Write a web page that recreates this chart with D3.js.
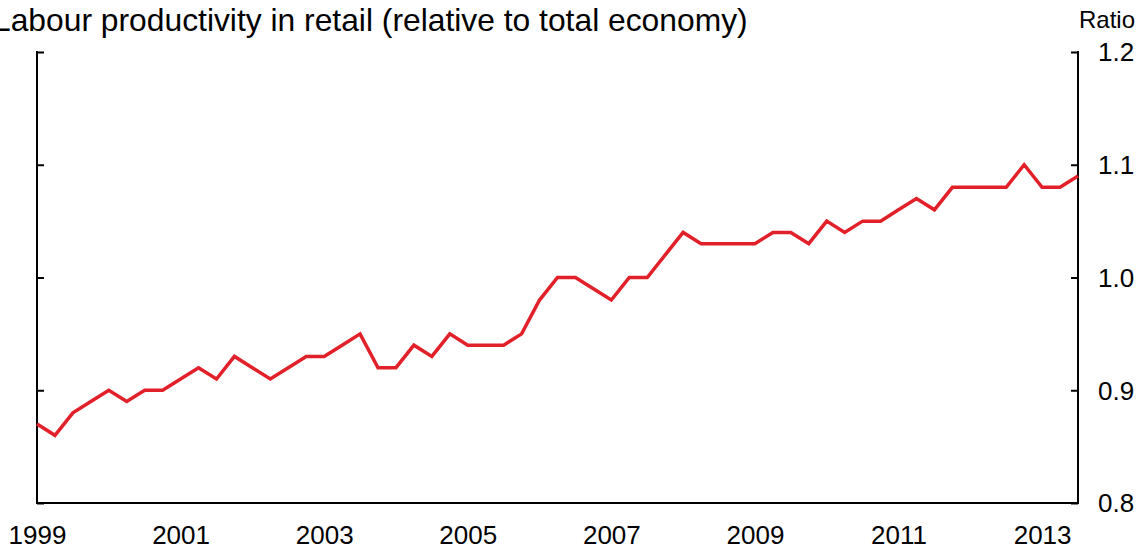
<!DOCTYPE html>
<html>
<head>
<meta charset="utf-8">
<script src="https://cdn.jsdelivr.net/npm/d3@7"></script>
<style>
  html, body { margin: 0; padding: 0; background: #fff; }
  svg { display: block; font-family: "Liberation Sans", Arial, sans-serif; }
</style>
</head>
<body>
<script>
// Quarterly data, 1999 Q1 – 2013 Q3
const startYear = 1999;
const values = [
  0.87, 0.86, 0.88, 0.89, 0.90, 0.89, 0.90, 0.90,
  0.91, 0.92, 0.91, 0.93, 0.92, 0.91, 0.92, 0.93,
  0.93, 0.94, 0.95, 0.92, 0.92, 0.94, 0.93, 0.95,
  0.94, 0.94, 0.94, 0.95, 0.98, 1.00, 1.00, 0.99,
  0.98, 1.00, 1.00, 1.02, 1.04, 1.03, 1.03, 1.03,
  1.03, 1.04, 1.04, 1.03, 1.05, 1.04, 1.05, 1.05,
  1.06, 1.07, 1.06, 1.08, 1.08, 1.08, 1.08, 1.10,
  1.08, 1.08, 1.09
];
const yearTicks = [1999, 2001, 2003, 2005, 2007, 2009, 2011, 2013];
const yTicks = [0.8, 0.9, 1.0, 1.1, 1.2];
const yTickLabels = ["0.8", "0.9", "1.0", "1.1", "1.2"];
const title = "Labour productivity in retail (relative to total economy)";
const unitLabel = "Ratio";

const W = 1148, H = 552;
const mLeft = 37, mRight = 1078, mTop = 52, mBottom = 503;

const svg = d3.select("body").append("svg").attr("width", W).attr("height", H);

const data = values.map((v, i) => ({ t: startYear + i / 4, v }));

const x = d3.scaleLinear()
  .domain([startYear, startYear + (values.length - 1) / 4])
  .range([mLeft, mRight]);
const y = d3.scaleLinear().domain([0.8, 1.2]).range([mBottom, mTop]);

// Left axis (ticks inward, no labels)
const leftAxis = d3.axisRight(y).tickValues(yTicks).tickSize(7).tickFormat("");
const gl = svg.append("g").attr("transform", `translate(${mLeft},0)`).call(leftAxis);
gl.select(".domain").remove();
gl.selectAll(".tick line").attr("stroke", "#000").attr("stroke-width", 2);
svg.append("line").attr("x1", mLeft).attr("x2", mLeft).attr("y1", y(1.2) - 1).attr("y2", mBottom + 1)
  .attr("stroke", "#000").attr("stroke-width", 2);

// Right axis (ticks inward, labels outside)
const rightAxis = d3.axisLeft(y).tickValues(yTicks).tickSize(7).tickFormat("");
const gr = svg.append("g").attr("transform", `translate(${mRight},0)`).call(rightAxis);
gr.select(".domain").remove();
gr.selectAll(".tick line").attr("stroke", "#000").attr("stroke-width", 2);
svg.append("line").attr("x1", mRight).attr("x2", mRight).attr("y1", y(1.2) - 1).attr("y2", mBottom + 1)
  .attr("stroke", "#000").attr("stroke-width", 2);
svg.append("g").selectAll("text").data(yTicks).join("text")
  .attr("x", mRight + 20)
  .attr("y", d => y(d))
  .attr("dy", "0.36em")
  .attr("font-size", 26)
  .attr("fill", "#000")
  .text((d, i) => yTickLabels[i]);

// Bottom axis
const bottomAxis = d3.axisBottom(x).tickValues(yearTicks).tickSize(0).tickPadding(0).tickFormat(d3.format("d"));
const gb = svg.append("g").attr("transform", `translate(0,${mBottom})`).call(bottomAxis);
gb.select(".domain").remove();
gb.selectAll(".tick text").attr("font-size", 26).attr("fill", "#000").attr("font-family", "Liberation Sans, Arial, sans-serif")
  .attr("y", 41).attr("dy", 0);
svg.append("line").attr("x1", mLeft - 1).attr("x2", mRight + 1).attr("y1", mBottom).attr("y2", mBottom)
  .attr("stroke", "#000").attr("stroke-width", 2);

// Line
svg.append("path").datum(data)
  .attr("fill", "none")
  .attr("stroke", "#e2202a")
  .attr("stroke-width", 3.5)
  .attr("stroke-linejoin", "miter")
  .attr("d", d3.line().x(d => x(d.t)).y(d => y(d.v)));

// Title and unit
svg.append("text").attr("x", -7).attr("y", 31).attr("font-size", 31.8).attr("fill", "#000").text(title);
svg.append("text").attr("x", 1135).attr("y", 28).attr("text-anchor", "end").attr("font-size", 24).attr("fill", "#000").text(unitLabel);
</script>
</body>
</html>
